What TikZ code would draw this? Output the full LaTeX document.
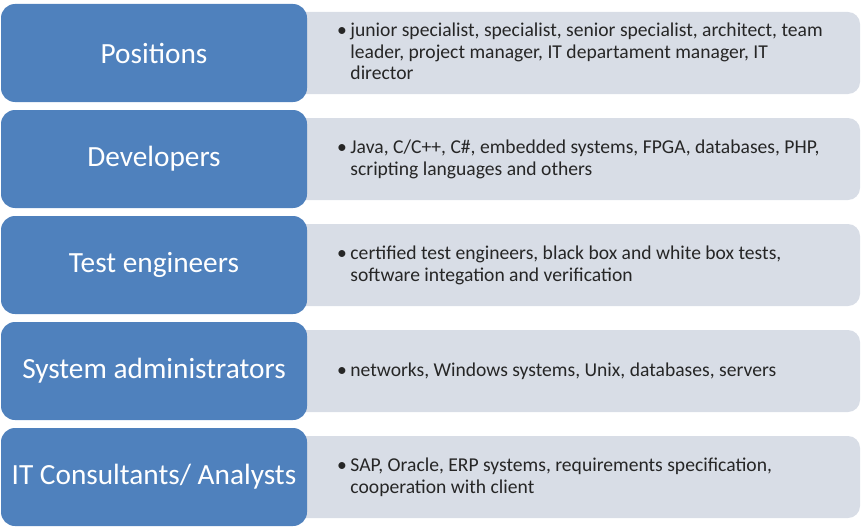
\documentclass[tikz,border=0pt]{standalone}
\usepackage{fontspec}
\setmainfont{Carlito}
\definecolor{hdrblue}{RGB}{79,129,189}
\definecolor{paneg}{RGB}{216,221,230}
\definecolor{txtdark}{RGB}{38,38,38}
\tikzset{
  hdrbox/.style={fill=hdrblue, draw=none, rounded corners=14pt, minimum width=306pt, minimum height=98pt, inner sep=0pt, text=white, font=\fontsize{29.3}{33}\selectfont},
  panebox/.style={fill=paneg, draw=none, rounded corners=12pt, minimum width=570pt, minimum height=82pt, inner sep=0pt},
  itemtxt/.style={anchor=west, inner sep=0pt, text=txtdark, font=\fontsize{19.6}{21.5}\selectfont}
}
\newcommand{\bul}[1]{\begin{tabular}{@{}l@{\hspace{3.5pt}}l@{}}#1\end{tabular}}
\begin{document}
\begin{tikzpicture}[x=1pt,y=-1pt]
\useasboundingbox (0,0) rectangle (862,527);
% panes
\node[panebox] (p1) at (575,53) {};
\node[panebox] (p2) at (575,159) {};
\node[panebox] (p3) at (575,265) {};
\node[panebox] (p4) at (575,371) {};
\node[panebox] (p5) at (575,477) {};
% headers
\node[hdrbox] (h1) at (154,53) {Positions};
\node[hdrbox] (h2) at (154,159) {Developers};
\node[hdrbox] (h3) at (154,265) {Test engineers};
\node[hdrbox] (h4) at (154,371) {System administrators};
\node[hdrbox] (h5) at (154,477) {IT Consultants/ Analysts};
% items
\node[itemtxt] (t1) at (337,54) {\bul{•&junior specialist, specialist, senior specialist, architect, team\\ &leader, project manager, IT departament manager, IT\\ &director}};
\node[itemtxt] (t2) at (337,160) {\bul{•&Java, C/C++, C\#, embedded systems, FPGA, databases, PHP,\\ &scripting languages and others}};
\node[itemtxt] (t3) at (337,266) {\bul{•&certified test engineers, black box and white box tests,\\ &software integation and verification}};
\node[itemtxt] (t4) at (337,372) {\bul{•&networks, Windows systems, Unix, databases, servers}};
\node[itemtxt] (t5) at (337,478) {\bul{•&SAP, Oracle, ERP systems, requirements specification,\\ &cooperation with client}};
\end{tikzpicture}
\end{document}
